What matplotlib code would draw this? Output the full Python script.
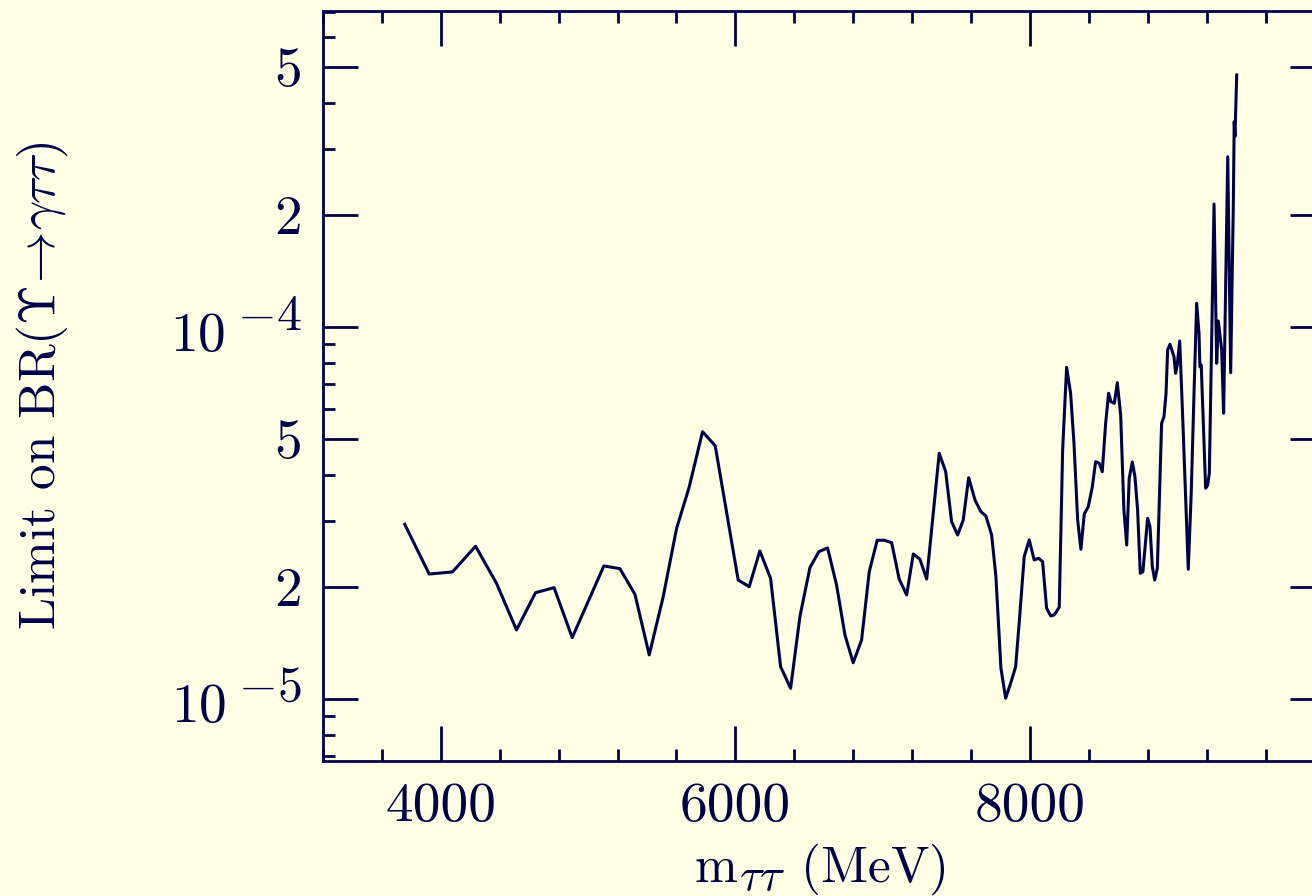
import matplotlib
matplotlib.use('Agg')
import matplotlib.pyplot as plt
import matplotlib._mathtext as _mt
from matplotlib.ticker import FixedLocator, FixedFormatter, NullFormatter

# superscripts/subscripts in the reference are larger than mathtext's default
_mt.SHRINK_FACTOR = 0.9

# ---- data ----
mass = [3755, 3921, 4079, 4236, 4378, 4514, 4643, 4769, 4892, 5000,
        5107, 5216, 5318, 5415, 5510, 5601, 5686, 5777, 5863, 6019,
        6094, 6166, 6239, 6307, 6375, 6438, 6506, 6567, 6626, 6687,
        6744, 6800, 6857, 6909, 6963, 7011, 7061, 7112, 7163, 7208,
        7253, 7299, 7337, 7384, 7428, 7468, 7509, 7547, 7584, 7627,
        7667, 7701, 7740, 7769, 7803, 7835, 7869, 7903, 7932, 7961,
        7995, 8029, 8059, 8086, 8113, 8141, 8165, 8199, 8222, 8249,
        8276, 8299, 8324, 8346, 8369, 8396, 8423, 8446, 8471, 8491,
        8514, 8534, 8550, 8573, 8593, 8616, 8638, 8657, 8674, 8695,
        8713, 8731, 8749, 8767, 8799, 8815, 8831, 8847, 8865, 8894,
        8910, 8924, 8935, 8951, 8978, 8989, 9000, 9017, 9037, 9075,
        9095, 9114, 9132, 9148, 9154, 9163, 9193, 9207, 9218, 9250,
        9268, 9279, 9302, 9315, 9343, 9363, 9381, 9387, 9392, 9404]

limit = [2.943e-5, 2.163e-5, 2.191e-5, 2.569e-5, 2.042e-5, 1.530e-5, 1.927e-5, 1.988e-5, 1.459e-5, 1.823e-5,
         2.274e-5, 2.236e-5, 1.908e-5, 1.311e-5, 1.880e-5, 2.871e-5, 3.701e-5, 5.221e-5, 4.786e-5, 2.084e-5,
         2.000e-5, 2.495e-5, 2.106e-5, 1.219e-5, 1.066e-5, 1.661e-5, 2.250e-5, 2.484e-5, 2.542e-5, 2.021e-5,
         1.483e-5, 1.249e-5, 1.438e-5, 2.195e-5, 2.666e-5, 2.666e-5, 2.627e-5, 2.097e-5, 1.900e-5, 2.449e-5,
         2.370e-5, 2.097e-5, 2.961e-5, 4.567e-5, 4.075e-5, 2.991e-5, 2.754e-5, 3.022e-5, 3.927e-5, 3.420e-5,
         3.182e-5, 3.098e-5, 2.754e-5, 2.128e-5, 1.207e-5, 1.003e-5, 1.100e-5, 1.219e-5, 1.697e-5, 2.408e-5,
         2.671e-5, 2.360e-5, 2.384e-5, 2.335e-5, 1.750e-5, 1.669e-5, 1.679e-5, 1.761e-5, 4.661e-5, 7.777e-5,
         6.622e-5, 4.859e-5, 3.022e-5, 2.521e-5, 3.137e-5, 3.282e-5, 3.701e-5, 4.336e-5, 4.293e-5, 4.075e-5,
         5.499e-5, 6.622e-5, 6.286e-5, 6.224e-5, 7.071e-5, 5.790e-5, 3.216e-5, 2.589e-5, 3.912e-5, 4.328e-5,
         3.951e-5, 3.216e-5, 2.173e-5, 2.195e-5, 3.054e-5, 2.900e-5, 2.264e-5, 2.084e-5, 2.242e-5, 5.499e-5,
         5.729e-5, 6.622e-5, 8.658e-5, 8.968e-5, 8.306e-5, 7.493e-5, 7.889e-5, 9.154e-5, 5.729e-5, 2.228e-5,
         3.566e-5, 6.622e-5, 1.156e-4, 9.600e-5, 7.805e-5, 7.889e-5, 3.678e-5, 3.754e-5, 4.035e-5, 2.137e-4,
         7.971e-5, 1.036e-4, 8.658e-5, 5.852e-5, 2.864e-4, 7.521e-5, 2.147e-4, 3.557e-4, 3.242e-4, 4.751e-4]

x_major = [4000, 6000, 8000]
x_major_labels = ['4000', '6000', '8000']
x_minor = [3200, 3600, 4400, 4800, 5200, 5600, 6400, 6800, 7200, 7600,
           8400, 8800, 9200, 9600, 10000]
y_major = [1e-5, 2e-5, 5e-5, 1e-4, 2e-4, 5e-4]
y_major_labels = [r'$10^{\hspace{0.2}{-5}}\,\,$', '2', '5',
                  r'$10^{\hspace{0.2}{-4}}\,\,$', '2', '5']
y_minor = [7e-6, 8e-6, 9e-6, 3e-5, 4e-5, 6e-5, 7e-5, 8e-5, 9e-5,
           3e-4, 4e-4, 6e-4, 7e-4]

xlabel = r'm$_{\tau\tau}$ (MeV)'
ylabel = r'Limit on BR($\Upsilon\!\rightarrow\!\gamma\tau\tau$)'

# ---- style ----
bg = '#FFFFE6'
ink = '#000048'
fs_tick = 40
fs_label = 37

plt.rcParams['font.family'] = 'cmr10'
plt.rcParams['mathtext.fontset'] = 'cm'
plt.rcParams['axes.unicode_minus'] = False
plt.rcParams['axes.formatter.use_mathtext'] = True

fig = plt.figure(figsize=(13.12, 8.96), dpi=100, facecolor=bg)
ax = fig.add_axes([323 / 1312, 1 - 760.7 / 896, (1324.5 - 323) / 1312, (760.7 - 11) / 896],
                  facecolor=bg)

ax.plot(mass, limit, color=ink, lw=2.2, solid_joinstyle='round')

ax.set_yscale('log')
ax.set_xlim(3200, 10000)
ax.set_ylim(6.81e-6, 7.06e-4)

ax.xaxis.set_major_locator(FixedLocator(x_major))
ax.xaxis.set_major_formatter(FixedFormatter(x_major_labels))
ax.xaxis.set_minor_locator(FixedLocator(x_minor))
ax.xaxis.set_minor_formatter(NullFormatter())
ax.yaxis.set_major_locator(FixedLocator(y_major))
ax.yaxis.set_major_formatter(FixedFormatter(y_major_labels))
ax.yaxis.set_minor_locator(FixedLocator(y_minor))
ax.yaxis.set_minor_formatter(NullFormatter())

for s in ax.spines.values():
    s.set_color(ink)
    s.set_linewidth(2.0)

ax.tick_params(which='both', direction='in', top=True, right=True,
               color=ink, width=2.0, labelcolor=ink, labelsize=fs_tick)
ax.tick_params(which='major', length=25)
ax.tick_params(which='minor', length=8.6)
ax.tick_params(axis='x', which='major', pad=16)
ax.tick_params(axis='y', which='major', pad=15)

fig.text(0.032, 0.570, ylabel, rotation=90, ha='center', va='center',
         fontsize=fs_label, color=ink)
fig.text(820 / 1312, 1 - 882 / 896, xlabel, ha='center', va='baseline',
         fontsize=fs_label, color=ink)

fig.savefig('out.png', dpi=100, facecolor=bg)
